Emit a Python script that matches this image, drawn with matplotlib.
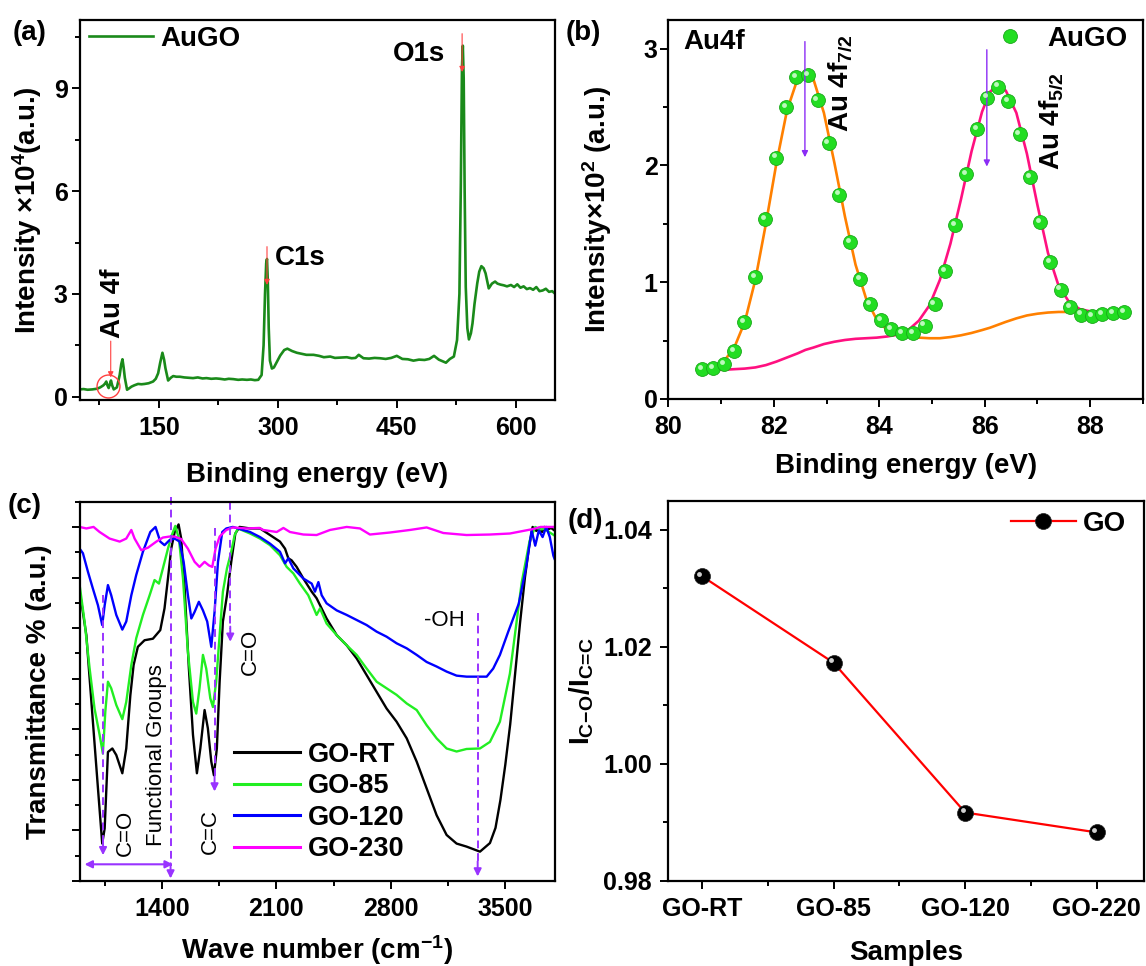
import numpy as np
import matplotlib
matplotlib.use('Agg')
import matplotlib.pyplot as plt
from matplotlib.ticker import MultipleLocator, FixedLocator
from matplotlib.transforms import offset_copy

plt.rcParams['font.family'] = ['Liberation Sans', 'DejaVu Sans']
plt.rcParams['font.weight'] = 'bold'
plt.rcParams['axes.labelweight'] = 'bold'
plt.rcParams['mathtext.fontset'] = 'custom'
plt.rcParams['mathtext.rm'] = 'Liberation Sans'
plt.rcParams['mathtext.bf'] = 'Liberation Sans:bold'
plt.rcParams['mathtext.default'] = 'bf'
plt.rcParams['axes.linewidth'] = 1.6

# ---------------- (a) XPS survey ----------------
survey_ev = [50, 55, 60, 66, 72, 76, 80, 82, 83.6, 85, 86.6, 88, 89.5, 91, 93, 97, 100.5, 102.5,
             104, 105.5, 107, 109.8, 113, 115.3, 119, 123.7, 128, 132, 137, 142.6, 146, 149, 151.5,
             154.4, 156.5, 158.2, 161.6, 165, 168, 172, 176.4, 182, 188, 193, 199, 205, 210, 216,
             222, 227, 233, 238, 244, 250, 255, 261, 266, 271, 275.3, 279.5, 282, 283.8, 285.3,
             286.3, 287.3, 288.5, 290, 292.5, 295, 298, 303, 308, 312, 318, 324, 330, 336, 345,
             352, 358, 366, 372, 380, 387, 393, 398, 402, 408, 415, 422, 429, 436, 443, 450, 457,
             464, 471, 478, 485, 491, 497, 503, 508, 512, 517, 522, 526, 529, 530.8, 532.2, 533.3,
             534.4, 535.6, 537, 539, 541, 543.5, 545.5, 548, 551.5, 554, 556.7, 559.5, 562, 566,
             570, 574, 577, 581, 585, 589, 594, 598, 602, 606, 610, 614, 618, 622, 626, 630, 634,
             638, 642, 646, 650]
survey_int = [0.21, 0.22, 0.20, 0.21, 0.23, 0.27, 0.33, 0.38, 0.44, 0.33, 0.25, 0.36, 0.47, 0.33,
              0.21, 0.27, 0.63, 0.95, 1.09, 0.85, 0.55, 0.20, 0.25, 0.29, 0.33, 0.37, 0.36, 0.37,
              0.39, 0.44, 0.52, 0.68, 0.98, 1.28, 1.08, 0.83, 0.47, 0.55, 0.60, 0.58, 0.58, 0.56,
              0.55, 0.54, 0.56, 0.53, 0.54, 0.52, 0.53, 0.52, 0.50, 0.52, 0.51, 0.49, 0.50, 0.49,
              0.50, 0.48, 0.49, 0.63, 1.5, 3.0, 3.9, 4.02, 3.4, 2.0, 1.05, 0.82, 0.85, 0.98, 1.2,
              1.36, 1.40, 1.33, 1.28, 1.25, 1.22, 1.22, 1.19, 1.15, 1.17, 1.13, 1.14, 1.15, 1.12,
              1.13, 1.22, 1.12, 1.11, 1.13, 1.12, 1.10, 1.13, 1.19, 1.10, 1.09, 1.05, 1.08, 1.07,
              1.10, 1.19, 1.08, 1.03, 0.99, 1.10, 1.17, 1.65, 3.0, 6.2, 9.6, 10.25, 9.3, 6.0, 3.2,
              2.0, 1.67, 1.85, 2.14, 2.7, 3.31, 3.65, 3.81, 3.75, 3.6, 3.16, 3.3, 3.36, 3.3, 3.27,
              3.25, 3.22, 3.26, 3.2, 3.28, 3.18, 3.22, 3.14, 3.17, 3.12, 3.2, 3.08, 3.1, 3.15,
              3.06, 3.08, 3.0]

# ---------------- (b) Au4f ----------------
au_ev = [80.64, 80.85, 81.06, 81.25, 81.44, 81.64, 81.84, 82.04, 82.23, 82.42, 82.65, 82.83,
         83.04, 83.24, 83.44, 83.64, 83.83, 84.04, 84.23, 84.44, 84.64, 84.86, 85.05, 85.25,
         85.44, 85.64, 85.85, 86.05, 86.25, 86.45, 86.66, 86.86, 87.05, 87.24, 87.44, 87.62,
         87.83, 88.04, 88.23, 88.44, 88.64]
au_int = [0.257, 0.266, 0.30, 0.41, 0.657, 1.046, 1.543, 2.066, 2.50, 2.757, 2.77, 2.56, 2.19,
          1.75, 1.343, 1.023, 0.81, 0.674, 0.60, 0.566, 0.566, 0.629, 0.81, 1.094, 1.49, 1.923,
          2.31, 2.58, 2.674, 2.55, 2.27, 1.90, 1.517, 1.17, 0.937, 0.789, 0.723, 0.709, 0.729,
          0.737, 0.743]
fit_ev = [80.65, 80.85, 81.05, 81.25, 81.45, 81.65, 81.85, 82.05, 82.25, 82.45, 82.6, 82.75,
          82.95, 83.15, 83.35, 83.55, 83.75, 83.95, 84.15, 84.35, 84.55, 84.75, 84.95, 85.15,
          85.35, 85.55, 85.75, 85.95, 86.1, 86.25, 86.4, 86.6, 86.8, 87.0, 87.2, 87.4, 87.6,
          87.8, 88.0, 88.2, 88.4, 88.65]
fit_72 = [0.25, 0.27, 0.32, 0.44, 0.66, 1.02, 1.50, 2.02, 2.47, 2.74, 2.80, 2.74, 2.45, 2.02,
          1.56, 1.15, 0.86, 0.68, 0.59, 0.55, 0.535, 0.525, 0.52, 0.52, 0.53, 0.545, 0.565,
          0.59, 0.61, 0.635, 0.66, 0.69, 0.715, 0.73, 0.74, 0.745, 0.745, 0.745, 0.745, 0.745,
          0.745, 0.745]
fit_52 = [0.25, 0.25, 0.25, 0.255, 0.26, 0.27, 0.29, 0.32, 0.355, 0.39, 0.42, 0.44, 0.47, 0.49,
          0.505, 0.515, 0.52, 0.525, 0.535, 0.55, 0.59, 0.67, 0.80, 1.02, 1.33, 1.71, 2.12,
          2.46, 2.63, 2.69, 2.64, 2.45, 2.10, 1.66, 1.25, 0.97, 0.83, 0.77, 0.75, 0.745, 0.745,
          0.745]

# ---------------- (c) FTIR ----------------
rt_wn = [901, 938, 978, 1009, 1035, 1050, 1070, 1097, 1121, 1158, 1182, 1207, 1227, 1253, 1294,
         1345, 1390, 1416, 1437, 1457, 1478, 1502, 1518, 1539, 1565, 1590, 1614, 1635, 1661,
         1681, 1702, 1718, 1736, 1753, 1773, 1798, 1824, 1849, 1875, 1939, 2000, 2061, 2122,
         2153, 2173, 2193, 2224, 2265, 2316, 2346, 2407, 2469, 2530, 2591, 2652, 2713, 2774,
         2835, 2897, 2958, 3019, 3080, 3141, 3202, 3263, 3345, 3406, 3440, 3470, 3500, 3530,
         3560, 3590, 3620, 3645, 3667, 3690, 3705, 3725, 3739, 3760, 3780, 3801]
rt_t = [5.65, 4.86, 3.15, 1.83, 0.74, 1.04, 2.55, 2.62, 2.49, 2.13, 2.62, 3.67, 4.27, 4.63, 4.76,
        4.79, 4.96, 5.39, 5.98, 6.57, 6.90, 7.05, 6.77, 5.78, 4.20, 2.89, 2.13, 2.62, 3.38, 3.02,
        2.36, 2.09, 2.62, 3.94, 5.13, 5.65, 6.31, 6.87, 7.0, 6.97, 6.97, 6.84, 6.71, 6.57, 6.38,
        6.34, 6.21, 5.98, 5.72, 5.59, 5.19, 4.86, 4.66, 4.40, 4.07, 3.74, 3.41, 3.15, 2.82, 2.36,
        1.83, 1.30, 0.91, 0.74, 0.68, 0.58, 0.75, 1.05, 1.6, 2.3, 3.1, 4.1, 5.1, 6.0, 6.6, 7.0,
        6.92, 6.98, 6.9, 7.0, 6.95, 6.98, 6.93]
g85_wn = [897, 927, 958, 988, 1019, 1039, 1054, 1070, 1090, 1121, 1158, 1182, 1213, 1243, 1284,
          1325, 1355, 1382, 1406, 1437, 1461, 1482, 1504, 1529, 1559, 1590, 1610, 1630, 1651,
          1671, 1696, 1712, 1732, 1753, 1773, 1798, 1824, 1845, 1865, 1939, 2000, 2061, 2122,
          2163, 2204, 2244, 2295, 2346, 2367, 2407, 2469, 2530, 2591, 2652, 2713, 2774, 2835,
          2897, 2958, 3019, 3080, 3141, 3202, 3263, 3345, 3406, 3467, 3528, 3560, 3600, 3649,
          3683, 3710, 3739, 3772, 3801]
g85_t = [5.85, 5.13, 4.20, 3.41, 2.89, 2.52, 3.35, 3.94, 3.81, 3.48, 3.20, 3.54, 4.27, 4.80,
         5.26, 5.65, 5.95, 5.88, 6.18, 6.57, 6.84, 7.02, 6.77, 5.98, 4.53, 3.54, 3.31, 3.81, 4.47,
         4.20, 3.61, 3.44, 3.94, 4.86, 5.72, 6.18, 6.51, 6.84, 6.97, 6.87, 6.77, 6.64, 6.44, 6.21,
         6.08, 5.88, 5.65, 5.26, 5.39, 5.09, 4.86, 4.66, 4.47, 4.20, 3.94, 3.81, 3.68, 3.51, 3.38,
         3.08, 2.82, 2.62, 2.56, 2.61, 2.62, 2.75, 3.15, 4.1, 4.9, 5.9, 6.73, 7.0, 6.95, 6.96,
         6.89, 6.83]
g120_wn = [897, 917, 948, 978, 1009, 1035, 1050, 1070, 1090, 1121, 1158, 1182, 1213, 1243, 1284,
           1329, 1361, 1390, 1416, 1447, 1478, 1508, 1533, 1559, 1580, 1600, 1626, 1651, 1677,
           1702, 1722, 1743, 1769, 1794, 1834, 1896, 1939, 2000, 2061, 2122, 2153, 2173, 2204,
           2265, 2316, 2336, 2357, 2377, 2407, 2469, 2530, 2591, 2652, 2713, 2774, 2835, 2897,
           2958, 3019, 3080, 3141, 3202, 3263, 3345, 3386, 3426, 3467, 3518, 3582, 3627, 3661,
           3683, 3705, 3728, 3750, 3772, 3794, 3801]
g120_t = [6.57, 6.48, 6.11, 5.78, 5.45, 5.06, 5.45, 5.85, 5.65, 5.26, 4.97, 5.13, 5.65, 6.05,
          6.51, 6.90, 7.0, 6.71, 6.64, 6.74, 6.77, 6.71, 6.31, 5.65, 5.19, 5.32, 5.52, 5.35, 5.13,
          4.63, 5.32, 6.31, 6.90, 6.97, 7.0, 6.94, 6.90, 6.80, 6.67, 6.51, 6.28, 6.38, 6.18, 5.98,
          5.88, 5.72, 5.91, 5.65, 5.49, 5.35, 5.26, 5.16, 5.06, 4.93, 4.83, 4.70, 4.60, 4.47,
          4.33, 4.24, 4.14, 4.06, 4.04, 4.04, 4.04, 4.20, 4.47, 4.93, 5.48, 6.2, 6.93, 6.63, 6.93,
          6.8, 7.0, 6.8, 6.43, 6.37]
g230_wn = [897, 938, 982, 1019, 1080, 1142, 1182, 1213, 1233, 1274, 1315, 1366, 1406, 1447, 1478,
           1518, 1559, 1600, 1630, 1661, 1687, 1708, 1728, 1753, 1794, 1834, 1916, 1997, 2020,
           2102, 2143, 2183, 2265, 2346, 2428, 2530, 2611, 2672, 2795, 2917, 3019, 3121, 3263,
           3406, 3528, 3672, 3716, 3801]
g230_t = [7.0, 6.97, 7.0, 6.90, 6.77, 6.71, 6.77, 6.94, 6.77, 6.54, 6.59, 6.71, 6.79, 6.81, 6.81,
          6.76, 6.57, 6.31, 6.21, 6.31, 6.24, 6.21, 6.57, 6.81, 6.94, 6.99, 6.97, 6.98, 6.94, 6.90,
          6.98, 6.90, 6.85, 6.84, 6.94, 7.0, 6.97, 6.85, 6.89, 6.94, 6.99, 6.88, 6.84, 6.85, 6.87,
          6.96, 7.0, 7.0]

# ---------------- (d) ratio ----------------
samples = ['GO-RT', 'GO-85', 'GO-120', 'GO-220']
ratio = [1.0321, 1.0173, 0.9917, 0.9883]

purple = '#9933ff'
violet = '#8b2cf5'
red_ann = '#ff4040'

fig = plt.figure(figsize=(11.46, 9.66), dpi=100)
ax_a = fig.add_axes([0.0695, 0.5859, 0.4151, 0.3934])
ax_b = fig.add_axes([0.5832, 0.5870, 0.4141, 0.3923])
ax_c = fig.add_axes([0.0695, 0.0880, 0.4151, 0.3927])
ax_d = fig.add_axes([0.5832, 0.0880, 0.4147, 0.3937])


def style(ax, xpad=5.4, ypad=2.5):
    ax.tick_params(which='major', direction='out', length=6, width=1.4, labelsize=18,
                   top=False, right=False)
    ax.tick_params(which='minor', direction='out', length=3.3, width=1.4, top=False, right=False)
    ax.tick_params(axis='x', which='major', pad=xpad)
    ax.tick_params(axis='y', which='major', pad=ypad)


# (a)
ax_a.plot(survey_ev, survey_int, color='#1a8a1a', lw=1.9, label='AuGO')
ax_a.set_xlim(50, 650)
ax_a.set_ylim(-0.1, 11.0)
ax_a.xaxis.set_major_locator(FixedLocator([150, 300, 450, 600]))
ax_a.xaxis.set_minor_locator(FixedLocator([75, 225, 375, 525]))
ax_a.yaxis.set_major_locator(FixedLocator([0, 3, 6, 9]))
ax_a.yaxis.set_minor_locator(FixedLocator([1.5, 4.5, 7.5, 10.5]))
style(ax_a, xpad=5.4, ypad=2.5)
ax_a.set_xlabel('Binding energy (eV)', fontsize=20)
ax_a.set_ylabel('Intensity ×10$^{4}$(a.u.)', fontsize=20)
ax_a.xaxis.set_label_coords(0.5, -0.162)
ax_a.yaxis.set_label_coords(-0.075, 0.5)
ax_a.legend(loc='upper left', bbox_to_anchor=(0.02, 0.985), frameon=False, fontsize=20,
            handlelength=2.3, handletextpad=0.25, borderpad=0, borderaxespad=0)
ax_a.text(445.6, 10.0, 'O1s', fontsize=20, ha='left', va='center')
ax_a.text(296, 4.04, 'C1s', fontsize=20, ha='left', va='center')
ax_a.text(92.4, 1.70, 'Au 4f', fontsize=20, rotation=90, ha='center', va='bottom')
for x0, y0, y1 in [(532.4, 10.6, 9.48), (286.3, 4.38, 3.26), (89.2, 1.62, 0.56)]:
    ax_a.annotate('', xy=(x0, y1), xytext=(x0, y0),
                  arrowprops=dict(arrowstyle='-|>', color=red_ann, lw=0.8,
                                  mutation_scale=8, shrinkA=0, shrinkB=0))
ax_a.plot([85.8], [0.31], marker='o', ms=16.5, mfc='none', mec=red_ann, mew=1.0)

# (b)
ax_b.plot(fit_ev, fit_72, color='#ff8000', lw=1.9, zorder=2)
ax_b.plot(fit_ev, fit_52, color='#ff1080', lw=1.9, zorder=2)
ax_b.plot(au_ev, au_int, ls='none', marker='o', ms=10, mfc='#22dd22', mec='#1aa81a', mew=0.6,
          zorder=3, label='AuGO')
hl_b = offset_copy(ax_b.transData, fig=fig, x=-1.6, y=1.6, units='points')
ax_b.plot(au_ev, au_int, ls='none', marker='o', ms=3.5, mfc='#d8ffd8', mec='none', alpha=0.85,
          transform=hl_b, zorder=4)
ax_b.set_xlim(80, 89)
ax_b.set_ylim(0, 3.245)
ax_b.xaxis.set_major_locator(MultipleLocator(2))
ax_b.xaxis.set_minor_locator(MultipleLocator(1))
ax_b.yaxis.set_major_locator(MultipleLocator(1))
ax_b.yaxis.set_minor_locator(MultipleLocator(0.5))
style(ax_b, xpad=5.4, ypad=1.7)
ax_b.set_xlabel('Binding energy (eV)', fontsize=20)
ax_b.set_ylabel('Intensity×10$^{2}$ (a.u.)', fontsize=20)
ax_b.xaxis.set_label_coords(0.5, -0.1425)
ax_b.yaxis.set_label_coords(-0.114, 0.5)
ax_b.legend(loc='upper right', bbox_to_anchor=(0.968, 0.985), frameon=False, fontsize=20,
            handlelength=2.0, handletextpad=0.37, borderpad=0, borderaxespad=0, numpoints=1)
ax_b.text(80.28, 3.06, 'Au4f', fontsize=20, ha='left', va='center')
for x0, y0, y1 in [(82.59, 3.06, 2.07), (86.04, 2.99, 1.99)]:
    ax_b.annotate('', xy=(x0, y1), xytext=(x0, y0),
                  arrowprops=dict(arrowstyle='-|>', color=violet, lw=1.0,
                                  mutation_scale=9, shrinkA=0, shrinkB=0))
ax_b.text(83.25, 2.29, 'Au 4f$_{7/2}$', fontsize=20, rotation=90, ha='center', va='bottom')
ax_b.text(87.25, 1.96, 'Au 4f$_{5/2}$', fontsize=20, rotation=90, ha='center', va='bottom')

# (c)
ax_c.plot(rt_wn, rt_t, color='black', lw=1.7, label='GO-RT')
ax_c.plot(g85_wn, g85_t, color='#22ee22', lw=1.7, label='GO-85')
ax_c.plot(g120_wn, g120_t, color='#0000ff', lw=1.7, label='GO-120')
ax_c.plot(g230_wn, g230_t, color='#ff00ff', lw=1.7, label='GO-230')
ax_c.set_xlim(897, 3806)
ax_c.set_ylim(0, 7.5)
ax_c.xaxis.set_major_locator(FixedLocator([1400, 2100, 2800, 3500]))
ax_c.xaxis.set_minor_locator(FixedLocator([1050, 1750, 2450, 3150]))
ax_c.yaxis.set_major_locator(MultipleLocator(1))
ax_c.yaxis.set_minor_locator(MultipleLocator(0.5))
style(ax_c, xpad=5.4)
ax_c.tick_params(axis='y', which='both', labelleft=False)
ax_c.set_xlabel('Wave number (cm$^{-1}$)', fontsize=20)
ax_c.set_ylabel('Transmittance % (a.u.)', fontsize=20)
ax_c.xaxis.set_label_coords(0.5, -0.138)
ax_c.yaxis.set_label_coords(-0.058, 0.5)

dash = (0, (4, 2.5))
for x0, y0, y1 in [(1040, 5.65, 0.51), (1453, 7.6, 0.05), (1722, 6.97, 1.77),
                   (1818, 7.5, 4.73), (3331, 5.29, 0.09)]:
    ax_c.plot([x0, x0], [y0, y1 + 0.25], color=purple, lw=1.4, ls=dash, clip_on=False)
    ax_c.annotate('', xy=(x0, y1), xytext=(x0, y1 + 0.3),
                  arrowprops=dict(arrowstyle='-|>', color=purple, lw=1.4,
                                  mutation_scale=11, shrinkA=0, shrinkB=0))
ax_c.annotate('', xy=(1467, 0.33), xytext=(927, 0.33),
              arrowprops=dict(arrowstyle='<|-|>', color=purple, lw=1.5,
                              mutation_scale=11, shrinkA=0, shrinkB=0))
ann_kw = dict(fontsize=16, fontweight='normal', rotation=90, ha='center', va='center')
ax_c.text(1176, 0.96, 'C=O', **ann_kw)
ax_c.text(1366, 2.49, 'Functional Groups', **ann_kw)
ax_c.text(1696, 0.97, 'C=C', **ann_kw)
ax_c.text(1942, 4.53, 'C=O', **ann_kw)
ax_c.text(3130, 5.16, '-OH', fontsize=16, fontweight='normal', ha='center', va='center')
leg_c = ax_c.legend(loc='lower left', bbox_to_anchor=(0.324, 0.05), frameon=False, fontsize=19.5,
                    handlelength=2.45, handletextpad=0.3, labelspacing=0.2, borderpad=0,
                    borderaxespad=0)
for ln in leg_c.get_lines():
    ln.set_linewidth(2.2)

# (d)
xs = np.arange(len(samples))
ax_d.plot(xs, ratio, color='#ff0000', lw=1.6, marker='o', ms=11.5, mfc='black', mec='#222222',
          mew=0.5, label='GO', zorder=3)
hl_d = offset_copy(ax_d.transData, fig=fig, x=-1.8, y=1.8, units='points')
ax_d.plot(xs, ratio, ls='none', marker='o', ms=3.5, mfc='#e8e8e8', mec='none', alpha=0.9,
          transform=hl_d, zorder=4)
ax_d.set_xlim(-0.255, 3.355)
ax_d.set_ylim(0.98, 1.045)
ax_d.set_xticks(xs)
ax_d.set_xticklabels(samples)
ax_d.xaxis.set_minor_locator(FixedLocator([0.5, 1.5, 2.5]))
ax_d.yaxis.set_major_locator(FixedLocator([0.98, 1.00, 1.02, 1.04]))
ax_d.yaxis.set_minor_locator(FixedLocator([0.99, 1.01, 1.03]))
ax_d.yaxis.set_major_formatter(matplotlib.ticker.FormatStrFormatter('%.2f'))
style(ax_d, xpad=5.4, ypad=6.0)
ax_d.set_xlabel('Samples', fontsize=20)
ax_d.set_ylabel(r'I$_{C\!-\!O}$/I$_{C\!=\!C}$', fontsize=20)
ax_d.xaxis.set_label_coords(0.5, -0.155)
ax_d.yaxis.set_label_coords(-0.153, 0.5)
ax_d.legend(loc='upper right', bbox_to_anchor=(0.963, 0.974), frameon=False, fontsize=20,
            handlelength=2.35, handletextpad=0.25, borderpad=0, borderaxespad=0, numpoints=1)

for lab, x, y in [('(a)', 12.8, 20), ('(b)', 565.6, 20), ('(c)', 7.3, 493), ('(d)', 567.5, 508)]:
    fig.text(x / 1146, 1 - y / 966, lab, fontsize=20, ha='left', va='top')

fig.savefig('out.png', dpi=100)
